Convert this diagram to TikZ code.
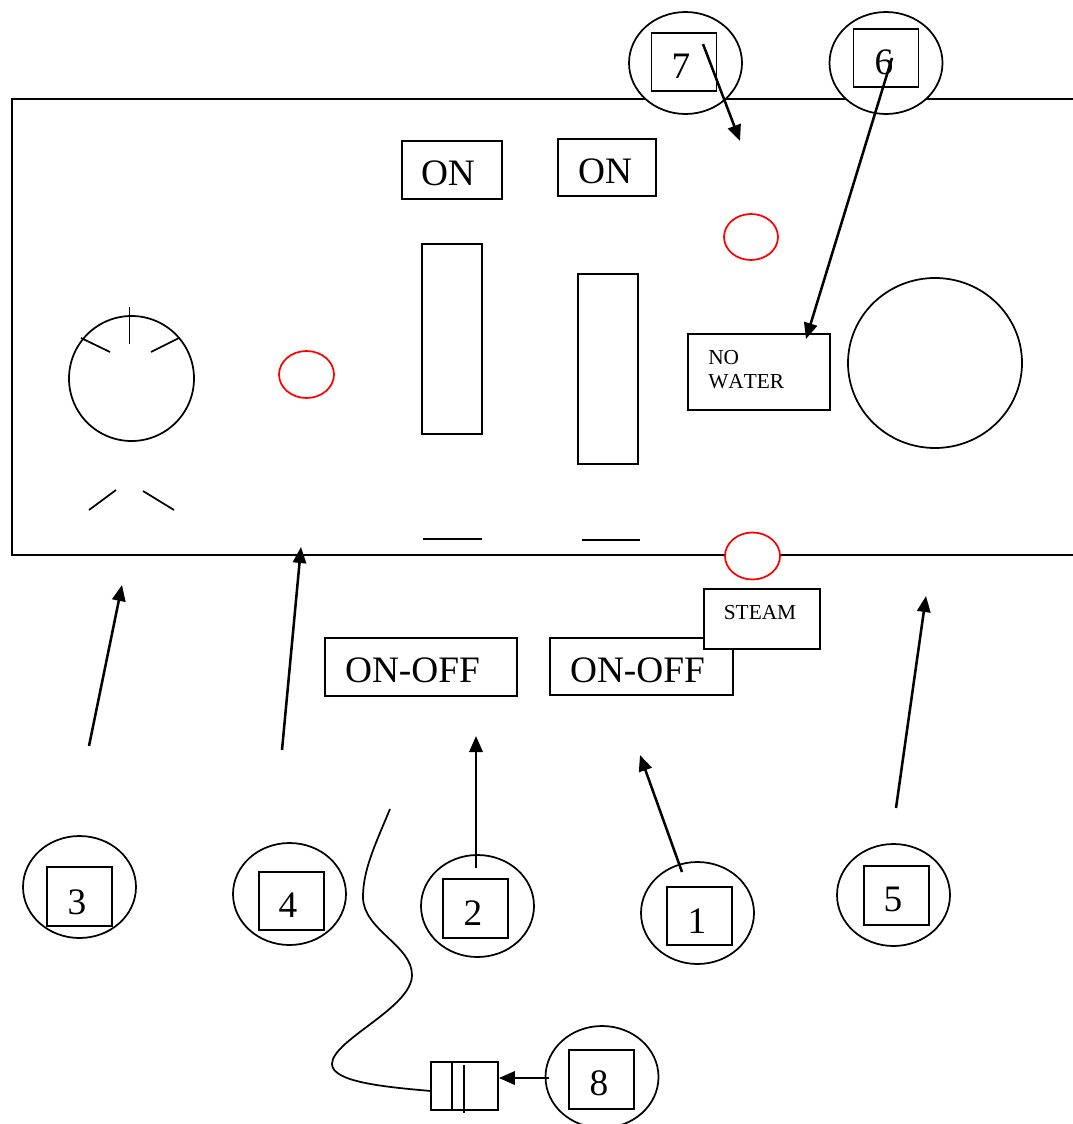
\documentclass[tikz,border=0pt]{standalone}
\usepackage{fontspec}
\setmainfont[Kerning=Off]{Liberation Serif}
\usetikzlibrary{arrows.meta,shapes.geometric}
\newcommand{\pxsize}{.75pt}
\tikzset{
  panelline/.style={draw, line width=1.3pt},
  boxnode/.style={panelline, rectangle, fill=white, inner sep=0pt},
  badge/.style={panelline, ellipse, fill=white, inner sep=0pt, minimum width=113*\pxsize, minimum height=102*\pxsize},
  lamp/.style={draw=red, line width=1.3pt, ellipse, fill=white, inner sep=0pt},
  bigtext/.style={inner sep=0pt, font=\fontsize{28}{30}\selectfont},
  smalltext/.style={inner sep=0pt, font=\fontsize{16}{18}\selectfont},
  pointer/.style={line width=1.9pt, -{Triangle[length=12pt,width=10pt]}}
}

\begin{document}
\begin{tikzpicture}[x=\pxsize, y=-\pxsize]
      \clip[use as bounding box] (0,0) rectangle (1073,1124);

      % panel, open on the right
        \coordinate (panelTR) at (1080,99);
        \coordinate (panelTL) at (12,99);
        \coordinate (panelBL) at (12,555);
        \coordinate (panelBR) at (1080,555);
        \draw[panelline] (panelTR) -- (panelTL) -- (panelBL) -- (panelBR);

      % dial
        \node (dial) at (131.5,378.5) [panelline, circle, inner sep=0pt, minimum size=125*\pxsize] {};
        \draw[panelline] (129.5,307) -- (129.5,344);
        \draw[panelline] (81,338) -- (110,352);
        \draw[panelline] (151,352) -- (179,338);
        \draw[panelline] (89,510) -- (116,490);
        \draw[panelline] (143,491) -- (174,510);

      % lamps
        \node (lampdial) at (306.5,374.5) [lamp, minimum width=55*\pxsize, minimum height=47*\pxsize] {};
        \node (lamptop) at (751,237) [lamp, minimum width=54*\pxsize, minimum height=46*\pxsize] {};
        \node (lampsteam) at (752.5,556) [lamp, minimum width=55*\pxsize, minimum height=47*\pxsize] {};

      % switches
        \node (onleft) at (452,170) [boxnode, minimum width=100*\pxsize, minimum height=58*\pxsize] {};
        \node (onright) at (607,167.5) [boxnode, minimum width=98*\pxsize, minimum height=57*\pxsize] {};
        \node (onlefttext) at (448,173) [bigtext] {ON};
        \node (onrighttext) at (605,171) [bigtext] {ON};
        \node (slotleft) at (452,339) [boxnode, minimum width=60*\pxsize, minimum height=190*\pxsize] {};
        \node (slotright) at (608,369) [boxnode, minimum width=60*\pxsize, minimum height=190*\pxsize] {};
        \draw[panelline] (423,539) -- (482,539);
        \draw[panelline] (582,540) -- (640,540);

      % no water, gauge
        \node (nowater) at (759,372) [boxnode, minimum width=142*\pxsize, minimum height=76*\pxsize] {};
        \node (notext) at (708,358) [smalltext, anchor=west] {NO};
        \node (watertext) at (708,382) [smalltext, anchor=west] {WATER};
        \node (gauge) at (935,363) [panelline, ellipse, inner sep=0pt, minimum width=174*\pxsize, minimum height=170*\pxsize] {};

      % labels under the panel
        \node (onoffleft) at (421,667) [boxnode, minimum width=192*\pxsize, minimum height=58*\pxsize] {};
        \node (onoffright) at (641.5,666.5) [boxnode, minimum width=183*\pxsize, minimum height=57*\pxsize] {};
        \node (onofflefttext) at (412.5,670) [bigtext] {ON-OFF};
        \node (onoffrighttext) at (637.5,670) [bigtext] {ON-OFF};
        \node (steam) at (762,619) [boxnode, minimum width=116*\pxsize, minimum height=60*\pxsize] {};
        \node (steamtext) at (760,613) [smalltext] {STEAM};

      % numbered badges
        \node (badge1) at (697.5,913) [badge] {};
        \node (box1) at (699.5,916) [boxnode, minimum width=65*\pxsize, minimum height=58*\pxsize] {};
        \node (num1) at (697,921) [bigtext] {1};
        \node (badge2) at (477.5,906) [badge] {};
        \node (box2) at (475.5,908.5) [boxnode, minimum width=65*\pxsize, minimum height=59*\pxsize] {};
        \node (num2) at (473,913) [bigtext] {2};
        \node (badge3) at (79.5,887) [badge] {};
        \node (box3) at (79.5,896.5) [boxnode, minimum width=65*\pxsize, minimum height=59*\pxsize] {};
        \node (num3) at (77,902) [bigtext] {3};
        \node (badge4) at (289.5,894) [badge] {};
        \node (box4) at (291.5,901) [boxnode, minimum width=65*\pxsize, minimum height=58*\pxsize] {};
        \node (num4) at (288,905) [bigtext] {4};
        \node (badge5) at (893.5,895) [badge] {};
        \node (box5) at (896.5,895.5) [boxnode, minimum width=65*\pxsize, minimum height=59*\pxsize] {};
        \node (num5) at (893,899) [bigtext] {5};
        \node (badge6) at (886,63) [badge] {};
        \node (box6) at (886,58) [boxnode, minimum width=65*\pxsize, minimum height=58*\pxsize] {};
        \node (num6) at (884,62) [bigtext] {6};
        \node (badge7) at (685.5,63) [badge] {};
        \node (box7) at (684,62) [boxnode, minimum width=65*\pxsize, minimum height=58*\pxsize] {};
        \node (num7) at (681,66) [bigtext] {7};
        \node (badge8) at (602,1077) [badge] {};
        \node (box8) at (601.5,1079.5) [boxnode, minimum width=65*\pxsize, minimum height=59*\pxsize] {};
        \node (num8) at (599,1083) [bigtext] {8};

      % plug and cable
        \node (plug) at (464.5,1086) [boxnode, minimum width=67*\pxsize, minimum height=48*\pxsize] {};
        \coordinate (cabletop) at (390,809);
        \coordinate (cableend) at (431,1091);
        \draw[panelline] (cabletop) .. controls (375,845) and (363,870) .. (363,897)
          .. controls (363,930) and (412,945) .. (412,975)
          .. controls (412,1008) and (332,1040) .. (332,1064)
          .. controls (332,1082) and (385,1087) .. (cableend);
        \draw[panelline] (452,1062) -- (452,1110);
        \draw[panelline] (464,1065) -- (464,1113);

      % arrows
        \coordinate (from1) at (682,872);
        \coordinate (to1) at (640,755);
        \coordinate (from2) at (476,868);
        \coordinate (to2) at (476,736);
        \coordinate (from3) at (89,746);
        \coordinate (to3) at (122,585);
        \coordinate (from4) at (282,750);
        \coordinate (to4) at (301,547);
        \coordinate (from5) at (896,808);
        \coordinate (to5) at (926,596);
        \coordinate (from6) at (892,58);
        \coordinate (to6) at (806,339);
        \coordinate (from7) at (703,44);
        \coordinate (to7) at (740,141);
        \coordinate (from8) at (549,1078);
        \draw[pointer] (from1) -- (to1);
        \draw[pointer] (from2) -- (to2);
        \draw[pointer] (from3) -- (to3);
        \draw[pointer] (from4) -- (to4);
        \draw[pointer] (from5) -- (to5);
        \draw[pointer] (from6) -- (to6);
        \draw[pointer] (from7) -- (to7);
        \draw[pointer] (from8) -- (plug.east |- from8);
    \end{tikzpicture}
\end{document}
